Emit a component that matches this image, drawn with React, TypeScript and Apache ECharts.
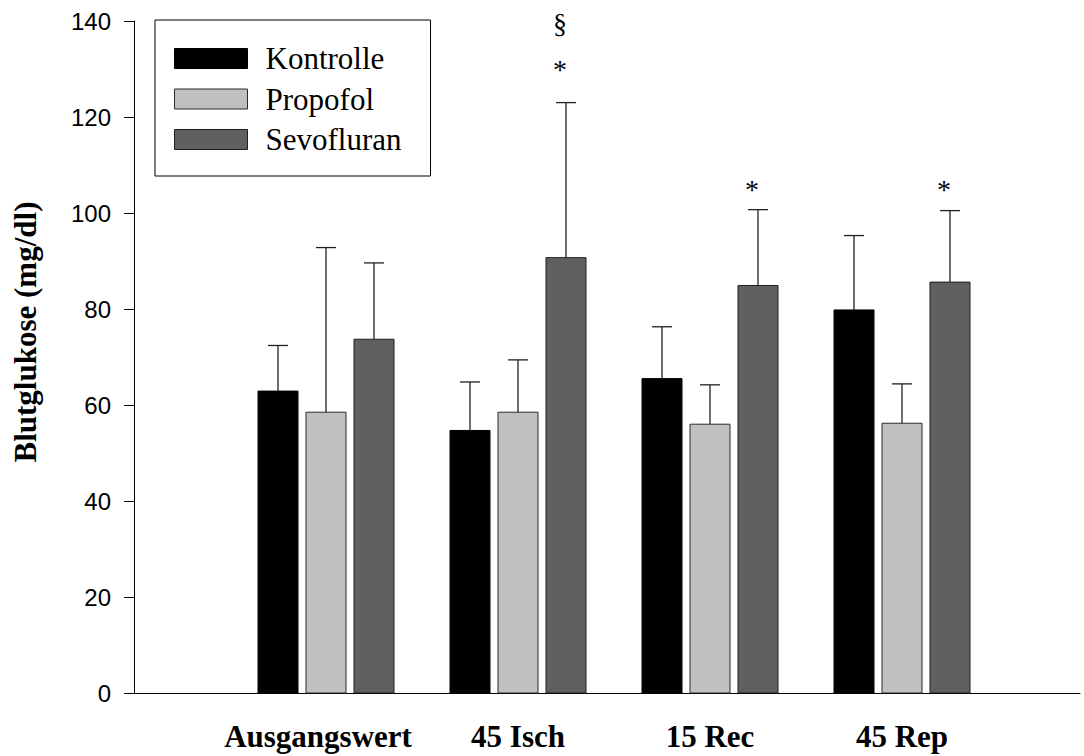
import React, { useEffect, useRef } from 'react';
import * as echarts from 'echarts';

const categories = ['Ausgangswert', '45 Isch', '15 Rec', '45 Rep'];
const seriesNames = ['Kontrolle', 'Propofol', 'Sevofluran'];
const kontrolleMean = [62.9, 54.7, 65.5, 79.8];
const kontrolleSD = [9.5, 10.1, 10.8, 15.5];
const propofolMean = [58.5, 58.5, 56.0, 56.2];
const propofolSD = [34.3, 10.9, 8.2, 8.2];
const sevofluranMean = [73.7, 90.7, 84.9, 85.6];
const sevofluranSD = [15.9, 32.3, 15.8, 14.9];
const yTicks = [0, 20, 40, 60, 80, 100, 120, 140];

// significance markers (placed over Sevofluran bars)
const markerText = ['§', '*', '*', '*'];
const markerCategory = ['45 Isch', '45 Isch', '15 Rec', '45 Rep'];
const markerValue = [139.4, 129.8, 104.8, 104.8];

const colors = ['#000000', '#c0c0c0', '#606060'];
const borders = ['#000000', '#2a2a2a', '#1e1e1e'];
const means = [kontrolleMean, propofolMean, sevofluranMean];
const sds = [kontrolleSD, propofolSD, sevofluranSD];

const UNIT = 192; // px per category
const BAR_W = 40;
const BAR_STEP = 48;
const SERIF = "'Times New Roman', 'Liberation Serif', serif";
const SANS = "Arial, 'Liberation Sans', sans-serif";

export default function App() {
  const ref = useRef<HTMLDivElement>(null);
  useEffect(() => {
    const chart = echarts.init(ref.current!, null, { renderer: 'svg' });
    const gridLeft = 134;
    const gridRight = 4;
    const plotW = 1084 - gridLeft - gridRight;

    const barSeries = seriesNames.map((name, si) => ({
      name,
      type: 'custom',
      itemStyle: { color: colors[si], borderColor: borders[si], borderWidth: 1 },
      data: categories.map((c, i) => [i + 1, means[si][i], sds[si][i]]),
      encode: { x: 0, y: [1, 2] },
      renderItem: (params: any, api: any) => {
        const x = api.value(0);
        const m = api.value(1);
        const s = api.value(2);
        const base = api.coord([x, 0]);
        const top = api.coord([x, m]);
        const et = api.coord([x, m + s]);
        const cx = base[0] + (si - 1) * BAR_STEP;
        return {
          type: 'group',
          children: [
            {
              type: 'rect',
              shape: { x: cx - BAR_W / 2, y: top[1], width: BAR_W, height: base[1] - top[1] },
              style: { fill: colors[si], stroke: borders[si], lineWidth: 1 },
            },
            {
              type: 'line',
              shape: { x1: cx, y1: top[1], x2: cx, y2: et[1] },
              style: { stroke: '#222', lineWidth: 1.3 },
            },
            {
              type: 'line',
              shape: { x1: cx - 10, y1: et[1], x2: cx + 10, y2: et[1] },
              style: { stroke: '#222', lineWidth: 1.3 },
            },
          ],
        };
      },
    }));

    const markerSeries = {
      name: 'markers',
      type: 'custom',
      data: markerText.map((t, i) => [categories.indexOf(markerCategory[i]) + 1, markerValue[i], i]),
      encode: { x: 0, y: 1 },
      renderItem: (params: any, api: any) => {
        const idx = api.value(2);
        const p = api.coord([api.value(0), api.value(1)]);
        return {
          type: 'text',
          x: p[0] + BAR_STEP - 6,
          y: p[1],
          style: {
            text: markerText[idx],
            fontSize: 28,
            fontFamily: SERIF,
            fill: '#000',
            align: 'center',
            verticalAlign: 'middle',
          },
        };
      },
    };

    const labelFont = { fontFamily: SERIF, fontWeight: 'bold', fontSize: 31, color: '#000' };

    const option: any = {
      animation: false,
      backgroundColor: '#ffffff',
      grid: { left: gridLeft, right: gridRight, top: 21, bottom: 63, containLabel: false },
      legend: {
        orient: 'vertical',
        left: 155,
        top: 20,
        selectedMode: false,
        borderColor: '#000',
        borderWidth: 1,
        padding: [23, 29, 21, 19],
        itemWidth: 73,
        itemHeight: 20,
        itemGap: 9.5,
        icon: 'rect',
        textStyle: { fontFamily: SERIF, fontSize: 31, lineHeight: 31, color: '#000', padding: [0, 0, 0, 13] },
        data: seriesNames.map((n, i) => ({
          name: n,
          itemStyle: { color: colors[i], borderColor: borders[i], borderWidth: 1 },
        })),
      },
      xAxis: {
        type: 'value',
        min: 0,
        max: plotW / UNIT,
        interval: 1,
        axisLine: { show: true, lineStyle: { color: '#000', width: 1 } },
        axisTick: { show: false },
        splitLine: { show: false },
        axisLabel: {
          formatter: (v: number) => {
            const name = categories[Math.round(v) - 1];
            if (!name) return '';
            return Math.round(v) === 1 ? `{a|${name}}` : `{n|${name}}`;
          },
          ...labelFont,
          rich: {
            a: { ...labelFont, padding: [0, 16, 0, 0] },
            n: { ...labelFont },
          },
          margin: 28,
          showMaxLabel: false,
        },
      },
      yAxis: {
        type: 'value',
        min: yTicks[0],
        max: yTicks[yTicks.length - 1],
        interval: 20,
        axisLine: { show: true, lineStyle: { color: '#000', width: 1 } },
        axisTick: { show: true, length: 10, lineStyle: { color: '#000', width: 1 } },
        splitLine: { show: false },
        axisLabel: { fontFamily: SANS, fontSize: 24, color: '#000', margin: 23 },
      },
      graphic: [
        {
          type: 'text',
          x: 25,
          y: 332,
          rotation: Math.PI / 2,
          style: {
            text: 'Blutglukose (mg/dl)',
            fontFamily: SERIF,
            fontWeight: 'bold',
            fontSize: 31,
            fill: '#000',
            align: 'center',
            verticalAlign: 'middle',
          },
        },
      ],
      series: [...barSeries, markerSeries],
    };
    chart.setOption(option);
    return () => chart.dispose();
  }, []);
  return (
    <div
      ref={ref}
      style={{ position: 'fixed', left: 0, top: 0, width: 1084, height: 756, background: '#fff' }}
    />
  );
}
